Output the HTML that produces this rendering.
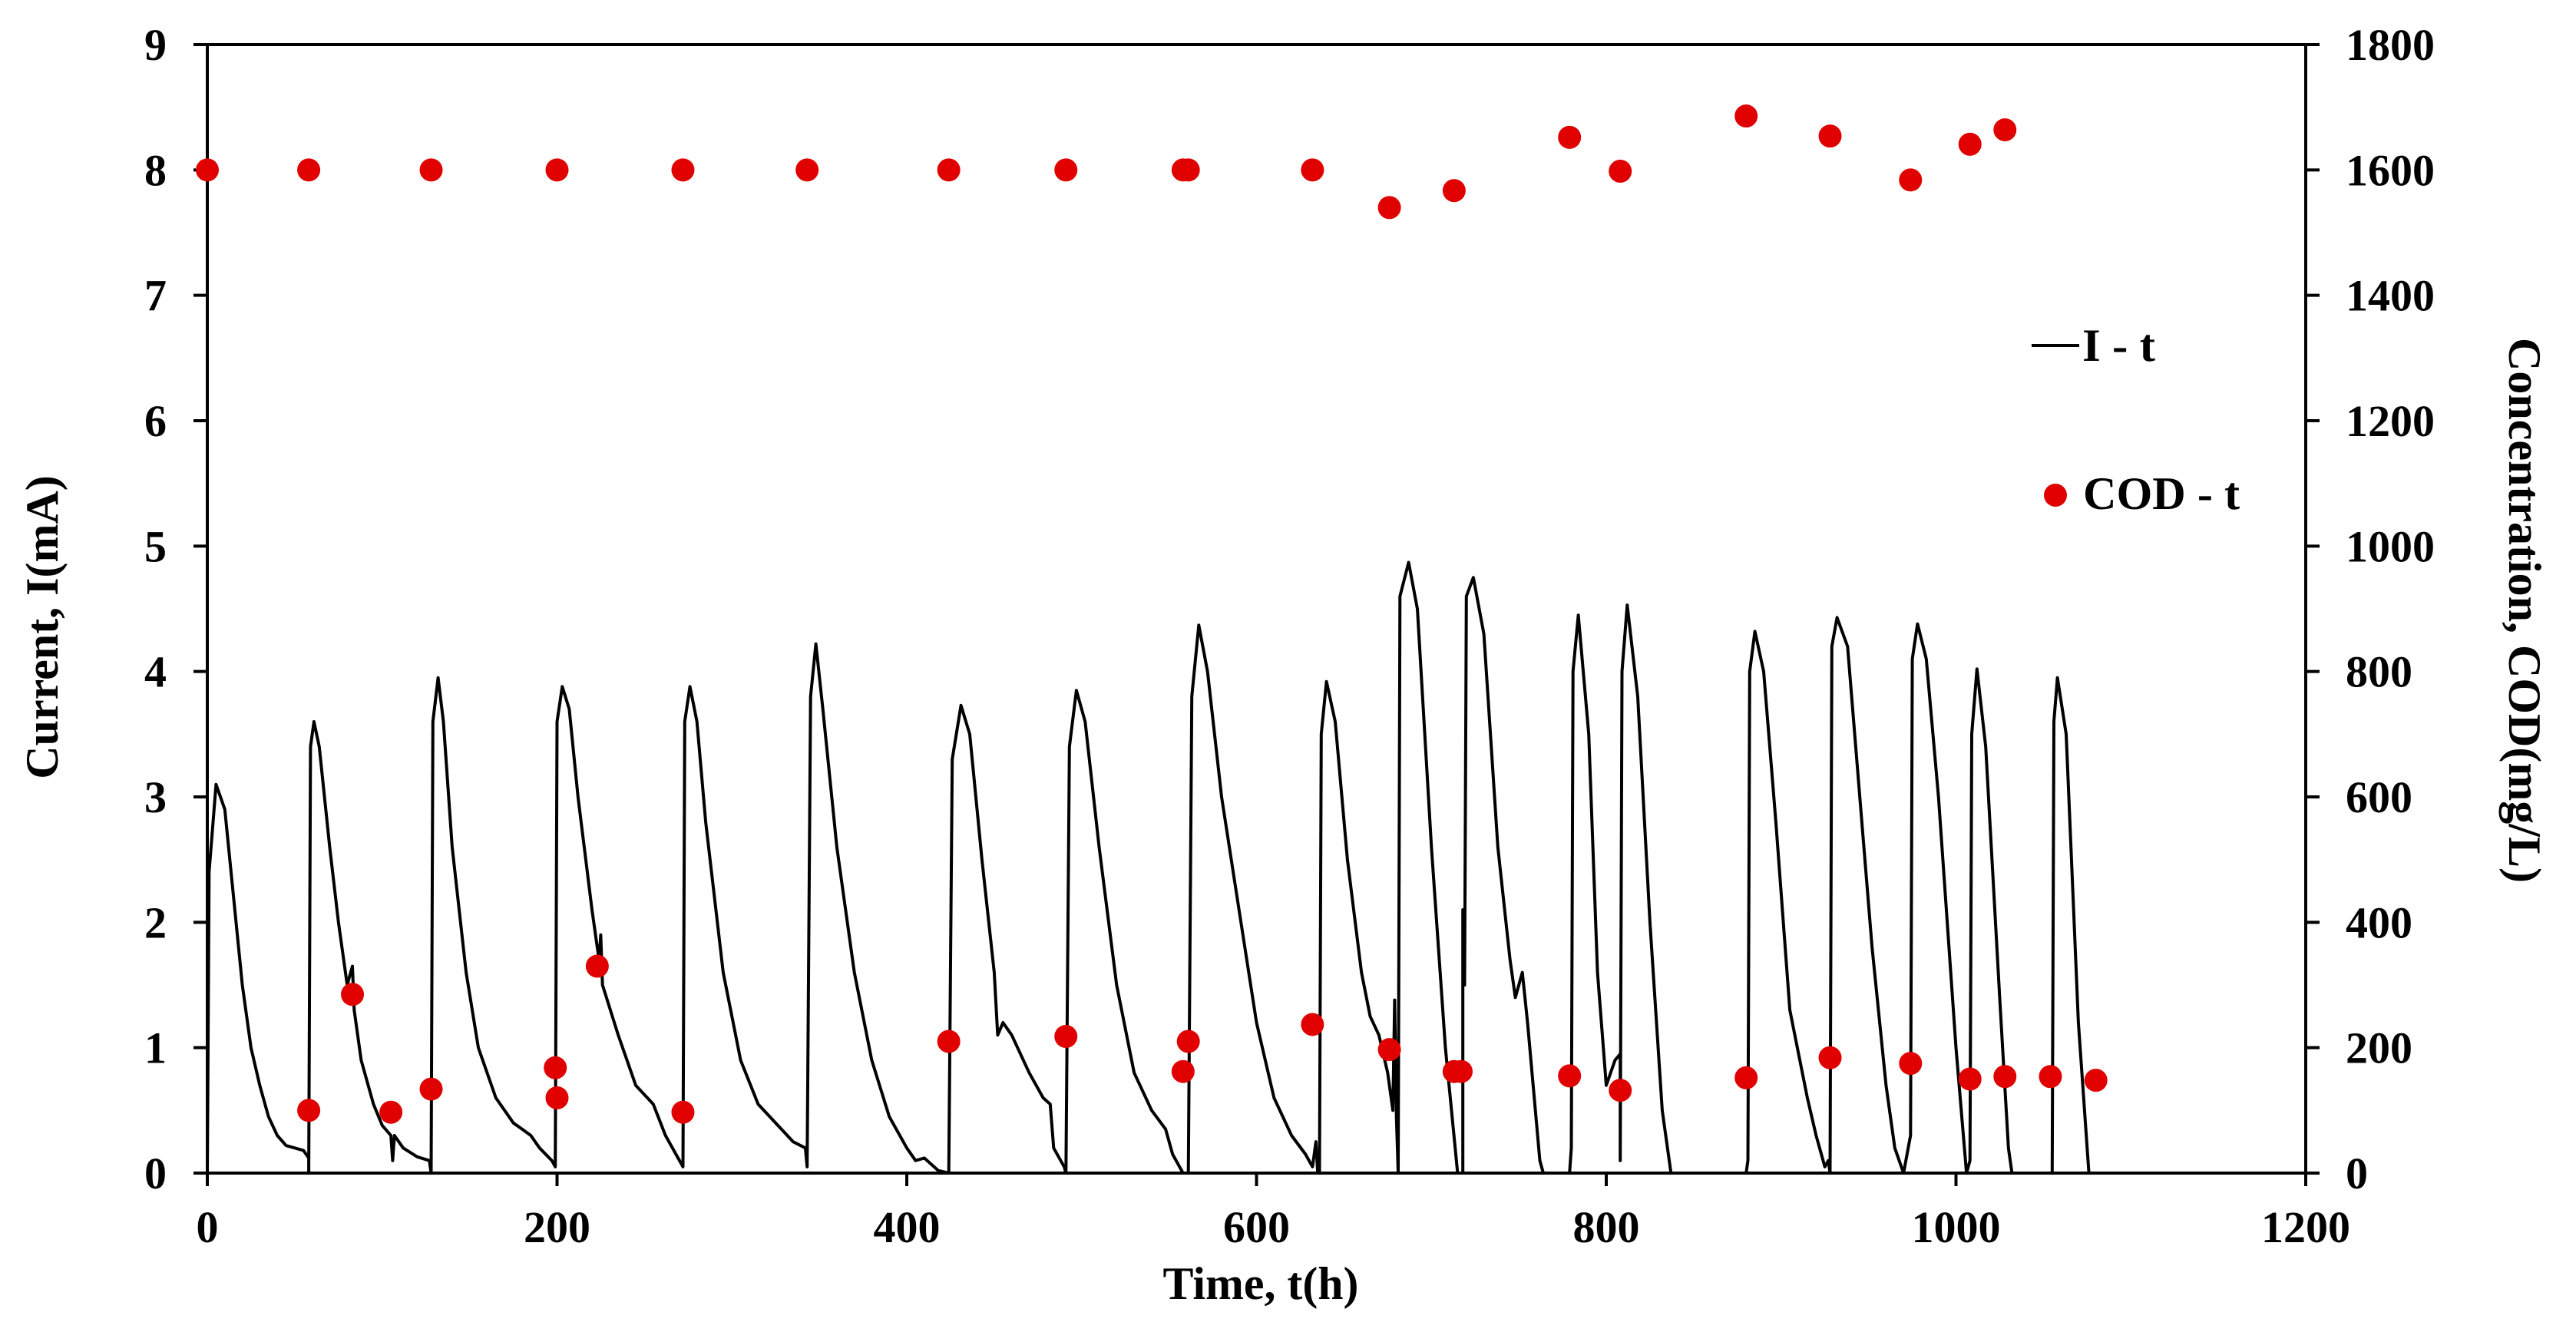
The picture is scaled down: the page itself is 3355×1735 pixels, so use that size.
<!DOCTYPE html>
<html><head><meta charset="utf-8"><style>
html,body{margin:0;padding:0;background:#fff;}
svg text{font-family:"Liberation Serif",serif;font-weight:bold;fill:#000;}
</style></head><body>
<svg id="chart" width="3355" height="1730" viewBox="0 0 3355 1730" xmlns="http://www.w3.org/2000/svg">
<g id="axes"></g>
<g id="series"></g>
<text x="1642" y="1692" font-size="60" text-anchor="middle" textLength="255" lengthAdjust="spacingAndGlyphs">Time, t(h)</text>
<text transform="translate(75,817) rotate(-90)" font-size="60" text-anchor="middle">Current, I(mA)</text>
<text transform="translate(3268,795) rotate(90)" font-size="60" text-anchor="middle">Concentration, COD(mg/L)</text>
<g>
<line x1="2646" y1="450" x2="2708" y2="450" stroke="#000" stroke-width="4"/>
<text x="2712" y="470" font-size="60" textLength="95" lengthAdjust="spacingAndGlyphs">I - t</text>
<circle cx="2677" cy="645" r="15" fill="#e00000"/>
<text x="2713" y="663" font-size="60" textLength="204" lengthAdjust="spacingAndGlyphs">COD - t</text>
</g>
</svg>
<script>
const xTicks=[0,200,400,600,800,1000,1200];
const yLeftTicks=[0,1,2,3,4,5,6,7,8,9];
const yRightTicks=[0,200,400,600,800,1000,1200,1400,1600,1800];
const codHighT=[0,58,128,200,272,343,424,491,558,561,632,676,713,779,808,880,928,974,1008,1028];
const codHighV=[1600,1600,1600,1600,1600,1600,1600,1600,1600,1600,1600,1540,1567,1652,1598,1686,1654,1584,1641,1664];
const codLowT=[58,83,105,128,199,200,223,272,424,491,558,561,632,676,713,717,779,808,880,928,974,1008,1028,1054,1080];
const codLowV=[100,285,97,134,168,120,330,97,210,218,162,210,237,197,162,162,155,132,152,184,175,150,154,154,148];
const curT=[0,1,5,10,15,20,25,30,35,40,45,50,55,58,58,
59,61,64,70,75,80,83,84,88,95,100,105,106,107,112,120,127,128,
129,132,135,140,148,155,165,175,180,185,190,197,199,
200,203,207,212,220,224,225,226,235,245,255,262,268,272,
273,276,280,285,295,305,315,325,335,342,343,
345,348,352,360,370,380,390,400,405,410,418,424,
426,431,436,443,450,452,455,460,470,478,482,484,490,491,
493,497,502,510,520,530,540,548,552,558,561,
563,567,572,580,590,600,610,620,628,632,634,635,636,
637,640,645,652,660,665,670,675,678,679,680,681,
682,687,692,700,708,715,718,
718,719,720,724,730,738,745,748,752,755,762,764,779,
780,781,784,790,795,800,805,808,808,
809,812,818,825,832,837,880,
881,882,885,890,897,905,915,920,925,927,928,
929,932,938,945,952,960,965,970,974,
975,978,983,990,1000,1006,1008,
1009,1012,1017,1025,1030,1032,1055,
1056,1058,1063,1070,1076];
const curI=[0,2.4,3.1,2.9,2.2,1.5,1.0,0.7,0.45,0.3,0.22,0.2,0.18,0.12,0,
3.4,3.6,3.4,2.6,2.0,1.5,1.65,1.3,0.9,0.55,0.38,0.3,0.1,0.3,0.2,0.13,0.1,0,
3.6,3.95,3.6,2.6,1.6,1.0,0.6,0.4,0.35,0.3,0.2,0.1,0.05,
3.6,3.88,3.7,3.0,2.1,1.7,1.9,1.5,1.1,0.7,0.55,0.3,0.15,0.05,
3.6,3.88,3.6,2.8,1.6,0.9,0.55,0.4,0.25,0.2,0.05,
3.8,4.22,3.7,2.6,1.6,0.9,0.45,0.2,0.1,0.12,0.02,0,
3.3,3.73,3.5,2.5,1.6,1.1,1.2,1.1,0.8,0.6,0.55,0.2,0.05,0,
3.4,3.85,3.6,2.6,1.5,0.8,0.5,0.35,0.15,0,0,
3.8,4.37,4.0,3.0,2.1,1.2,0.6,0.3,0.15,0.05,0.25,0,0,
3.5,3.92,3.6,2.5,1.6,1.25,1.1,0.8,0.5,1.38,0.45,0,
4.6,4.87,4.5,2.6,1.0,0,0,
2.1,1.5,4.6,4.75,4.3,2.6,1.7,1.4,1.6,1.2,0.1,0,0,
0.2,4.0,4.45,3.5,1.6,0.7,0.9,0.95,0.1,
4.0,4.53,3.8,2.0,0.5,0,0,
0.1,4.0,4.32,4.0,2.8,1.3,0.6,0.3,0.05,0.1,0,
4.2,4.43,4.2,3.0,1.8,0.7,0.2,0,0.3,
4.1,4.38,4.1,3.0,1.0,0,0.1,
3.5,4.02,3.4,1.4,0.2,0,0,
3.6,3.95,3.5,1.2,0];

const X0=270,X1=3003,Y0=1528,Y1=58;
const NS='http://www.w3.org/2000/svg';
function xs(t){return X0+(t/1200)*(X1-X0);}
function yl(v){return Y0-(v/9)*(Y0-Y1);}
function yr(v){return Y0-(v/1800)*(Y0-Y1);}
function mk(tag,attrs,parent){const e=document.createElementNS(NS,tag);for(const k in attrs)e.setAttribute(k,attrs[k]);parent.appendChild(e);return e;}
const axes=document.getElementById('axes');
const series=document.getElementById('series');

let f=mk('rect',{x:X0,y:Y1,width:X1-X0,height:Y0-Y1,fill:'none',stroke:'#000','stroke-width':4},axes);



xTicks.forEach(t=>{
  const l=mk('line',{x1:xs(t),x2:xs(t),y1:Y0,y2:Y0+17,stroke:'#000','stroke-width':4},axes);
  
  
  const tx=mk('text',{x:xs(t),y:1618,'font-size':58,'text-anchor':'middle'},axes);
  tx.textContent=t;
  
  
});
yLeftTicks.forEach(v=>{
  const l=mk('line',{x1:X0-18,x2:X0,y1:yl(v),y2:yl(v),stroke:'#000','stroke-width':4},axes);
  
  
  const tx=mk('text',{x:217,y:yl(v)+20,'font-size':58,'text-anchor':'end'},axes);
  tx.textContent=v;
  
  
});
yRightTicks.forEach(v=>{
  const l=mk('line',{x1:X1,x2:X1+18,y1:yr(v),y2:yr(v),stroke:'#000','stroke-width':4},axes);
  
  
  const tx=mk('text',{x:3055,y:yr(v)+20,'font-size':58,'text-anchor':'start'},axes);
  tx.textContent=v;
  
  
});

let d='';
for(let i=0;i<curT.length;i++){d+=(i?'L':'M')+xs(curT[i]).toFixed(1)+','+yl(curI[i]).toFixed(1);}
const p=mk('path',{d:d,fill:'none',stroke:'#000','stroke-width':4,'stroke-linejoin':'round'},series);



function dots(T,V,name){
  for(let i=0;i<T.length;i++){
    const c=mk('circle',{cx:xs(T[i]),cy:yr(V[i]),r:15,fill:'#e00000'},series);
    
    
  }
}
dots(codHighT,codHighV,'cod-influent-point');
dots(codLowT,codLowV,'cod-effluent-point');
</script>
</body></html>
